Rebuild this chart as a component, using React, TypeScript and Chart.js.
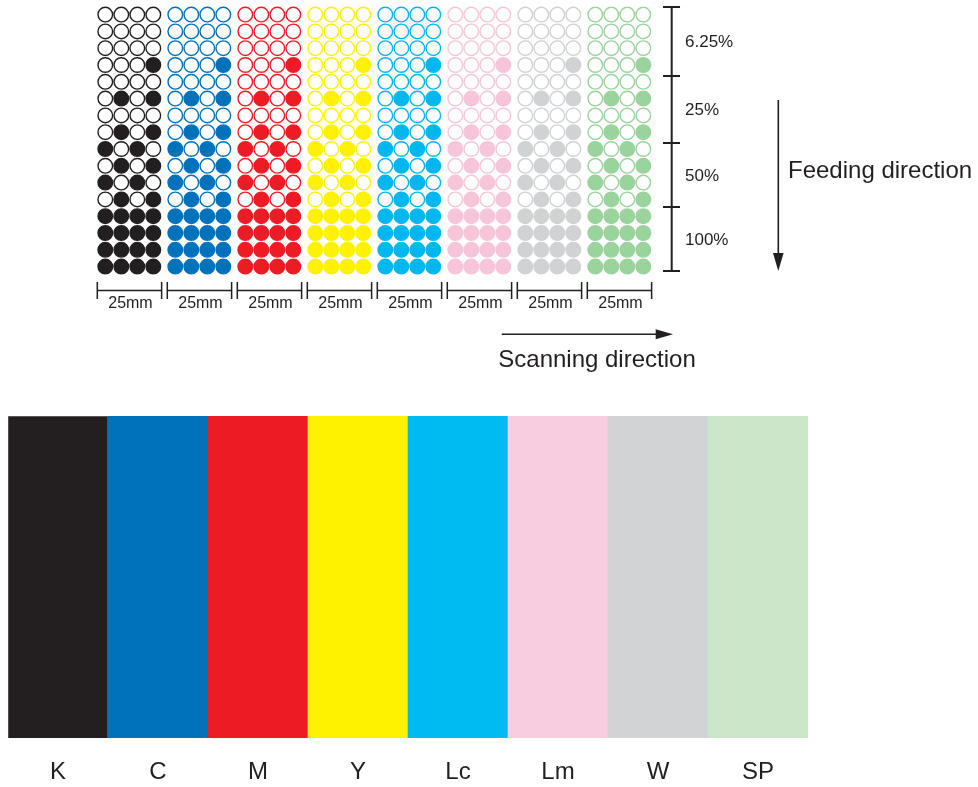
import React, { useEffect, useRef } from "react";
import { Chart, registerables } from "chart.js";

Chart.register(...registerables);

// ---- data ----
const INKS = ["K", "C", "M", "Y", "Lc", "Lm", "W", "SP"];
const DOT_COLORS = ["#231f20", "#0072bc", "#ed1c24", "#fff200", "#00b7ef", "#f7c5da", "#d0d2d3", "#9ad39c"];
const BAR_COLORS = ["#231f20", "#0071bb", "#ed1c24", "#fff200", "#00bbf0", "#f8cde0", "#d1d3d4", "#cce6ca"];
const BAR_VALUES = [1, 1, 1, 1, 1, 1, 1, 1];
const DENSITY_LABELS = ["6.25%", "25%", "50%", "100%"];
// 16 rows x 4 columns per ink, 1 = printed dot
const DOT_PATTERN = [
  "0000", "0000", "0000", "0001",
  "0000", "0101", "0000", "0101",
  "1010", "0101", "1010", "0101",
  "1111", "1111", "1111", "1111",
];
const WIDTH_LABEL = "25mm";
const FEED_LABEL = "Feeding direction";
const SCAN_LABEL = "Scanning direction";

// ---- layout ----
const GROUP_STEP = 4.375; // dot units between ink groups
const TOP_H = 390;
const BOTTOM_H = 387;
const W = 978;
const FONT = '"Liberation Sans", Arial, Helvetica, sans-serif';
const INK = "#231f20";

function buildDots(g: number) {
  const pts: { x: number; y: number; on: boolean }[] = [];
  DOT_PATTERN.forEach((row, r) => {
    row.split("").forEach((ch, c) => {
      pts.push({ x: g * GROUP_STEP + c, y: r, on: ch === "1" });
    });
  });
  return pts;
}

const annotations = {
  id: "annotations",
  afterDatasetsDraw(chart: any) {
    const ctx = chart.ctx;
    const xs = chart.scales.x;
    ctx.save();
    ctx.strokeStyle = INK;
    ctx.fillStyle = INK;
    ctx.lineWidth = 1.5;

    // width scale bars
    ctx.font = `16px ${FONT}`;
    ctx.textAlign = "center";
    ctx.textBaseline = "middle";
    INKS.forEach((_, g) => {
      const x0 = xs.getPixelForValue(g * GROUP_STEP - 0.5);
      const x1 = xs.getPixelForValue(g * GROUP_STEP + 3.52);
      ctx.beginPath();
      ctx.moveTo(x0, 290.5);
      ctx.lineTo(x1, 290.5);
      ctx.moveTo(x0, 282);
      ctx.lineTo(x0, 299);
      ctx.moveTo(x1, 282);
      ctx.lineTo(x1, 299);
      ctx.stroke();
      ctx.fillText(WIDTH_LABEL, (x0 + x1) / 2 + 1, 303.5);
    });

    // density bracket
    const bY = [7, 76, 143, 207, 271];
    ctx.lineWidth = 2;
    ctx.beginPath();
    ctx.moveTo(671.7, bY[0]);
    ctx.lineTo(671.7, bY[4]);
    bY.forEach((y) => {
      ctx.moveTo(663, y);
      ctx.lineTo(680, y);
    });
    ctx.stroke();
    ctx.font = `17px ${FONT}`;
    ctx.textAlign = "left";
    DENSITY_LABELS.forEach((lab, i) => {
      ctx.fillText(lab, 685, (bY[i] + bY[i + 1]) / 2 + 1);
    });

    // feeding arrow
    ctx.lineWidth = 1.6;
    ctx.beginPath();
    ctx.moveTo(778.3, 100);
    ctx.lineTo(778.3, 256);
    ctx.stroke();
    ctx.beginPath();
    ctx.moveTo(773, 253);
    ctx.lineTo(783.6, 253);
    ctx.lineTo(778.3, 271);
    ctx.closePath();
    ctx.fill();
    ctx.font = `24px ${FONT}`;
    ctx.textAlign = "left";
    ctx.fillText(FEED_LABEL, 788, 171);

    // scanning arrow
    ctx.beginPath();
    ctx.moveTo(501.7, 334.3);
    ctx.lineTo(658, 334.3);
    ctx.stroke();
    ctx.beginPath();
    ctx.moveTo(655.7, 329.3);
    ctx.lineTo(655.7, 339.3);
    ctx.lineTo(673, 334.3);
    ctx.closePath();
    ctx.fill();
    ctx.textAlign = "center";
    ctx.fillText(SCAN_LABEL, 597, 360);

    ctx.restore();
  },
};

export default function App() {
  const topRef = useRef<HTMLCanvasElement>(null);
  const botRef = useRef<HTMLCanvasElement>(null);

  useEffect(() => {
    const datasets = INKS.map((name, g) => {
      const pts = buildDots(g);
      return {
        label: name,
        data: pts.map((p) => ({ x: p.x, y: p.y })),
        pointRadius: 7.3,
        pointBorderWidth: 1.4,
        pointBorderColor: DOT_COLORS[g],
        pointBackgroundColor: pts.map((p) => (p.on ? DOT_COLORS[g] : "#ffffff")),
        showLine: false,
        clip: false,
      };
    });

    const top = new Chart(topRef.current!, {
      type: "scatter",
      data: { datasets },
      options: {
        responsive: false,
        animation: false,
        events: [],
        layout: { padding: 0, autoPadding: false },
        plugins: { legend: { display: false }, tooltip: { enabled: false } },
        scales: {
          x: { type: "linear", display: false, min: -105.3 / 16, max: (W - 105.3) / 16 },
          y: { type: "linear", display: false, reverse: true, min: -14.6 / 16.8, max: (TOP_H - 14.6) / 16.8 },
        },
      },
      plugins: [annotations],
    } as any);

    const bot = new Chart(botRef.current!, {
      type: "bar",
      data: {
        labels: INKS,
        datasets: [
          {
            data: BAR_VALUES,
            backgroundColor: BAR_COLORS,
            borderColor: BAR_COLORS.map((c, i) => (i === 0 ? "#6d6e70" : c)),
            borderWidth: BAR_COLORS.map((_, i) => (i === 0 ? 1 : 0)),
            barPercentage: 1,
            categoryPercentage: 1,
          },
        ],
      },
      options: {
        responsive: false,
        animation: false,
        events: [],
        layout: { padding: { left: 8, right: W - 808, top: 16, bottom: 0 }, autoPadding: false },
        plugins: { legend: { display: false }, tooltip: { enabled: false } },
        scales: {
          x: {
            grid: { display: false, drawTicks: false },
            border: { display: false },
            ticks: { color: INK, font: { size: 24, family: FONT }, padding: 20 },
            afterFit: (scale: any) => {
              scale.height = BOTTOM_H - 16 - 322;
            },
          },
          y: { display: false, min: 0, max: 1 },
        },
      },
    } as any);

    return () => {
      top.destroy();
      bot.destroy();
    };
  }, []);

  return (
    <div style={{ position: "absolute", left: 0, top: 0, width: W, height: 787, background: "#fff" }}>
      <canvas ref={topRef} width={W} height={TOP_H} style={{ position: "absolute", left: 0, top: 0 }} />
      <canvas ref={botRef} width={W} height={BOTTOM_H} style={{ position: "absolute", left: 0, top: 400 }} />
    </div>
  );
}
